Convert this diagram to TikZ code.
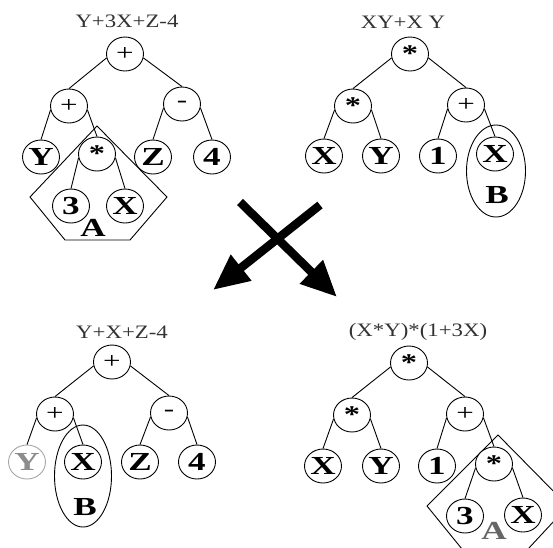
\documentclass[tikz,border=0pt]{standalone}
\usepackage{fontspec}
\setmainfont{Liberation Serif}
\newfontfamily\nodefont[FakeStretch=1.35]{Liberation Serif}
\newfontfamily\titlefont[FakeStretch=1.2]{Liberation Serif}
\usetikzlibrary{arrows.meta,shapes.geometric}
\tikzset{
  tnode/.style={draw, fill=white, ellipse, minimum width=37pt, minimum height=34pt, inner sep=0pt, line width=0.9pt, font=\nodefont\bfseries\fontsize{26}{26}\selectfont},
  opnode/.style={tnode, font=\nodefont\fontsize{23}{23}\selectfont},
  starnode/.style={tnode, font=\nodefont\bfseries\fontsize{24}{24}\selectfont},
  link/.style={line width=0.9pt},
  ttl/.style={font=\titlefont\fontsize{19}{19}\selectfont, text=black!80, inner sep=0pt},
  lbl/.style={font=\nodefont\bfseries\fontsize{26}{26}\selectfont, inner sep=0pt},
  shapeline/.style={line width=0.9pt},
  bigarrow/.style={line width=8.5pt, -{Triangle[length=36pt,width=31pt]}},
}
\begin{document}
\begin{tikzpicture}[x=1pt,y=-1pt]
\useasboundingbox (0,0) rectangle (553,547);
\clip (0,0) rectangle (553,547);
\fill[white] (0,0) rectangle (553,547);

% ---------- top left ----------
\node[ttl] (tl) at (127,21) {Y+3X+Z-4};
\draw[shapeline] (97,126) -- (167,197) -- (130,240) -- (65,240) -- (30,197) -- cycle;
\node[lbl] (la) at (93,228) {A};
\node[opnode] (r1) at (125,54) {+};
\node[opnode] (a1) at (69,106) {+};
\node[opnode] (b1) at (182,104) {-};
\node[tnode] (y1) at (41,157) {Y};
\node[starnode] (s1) at (97,154) {*};
\node[tnode] (z1) at (153,157) {Z};
\node[tnode] (f1) at (212,157) {4};
\node[tnode] (t1) at (71,206) {3};
\node[tnode] (x1) at (125,206) {X};
\draw[link] (r1.192) -- (a1.north);
\draw[link] (r1.-12) -- (b1.north);
\draw[link] (a1.192) -- (y1.north);
\draw[link] (a1.-12) -- (s1.north);
\draw[link] (b1.192) -- (z1.north);
\draw[link] (b1.-12) -- (f1.north);
\draw[link] (s1.192) -- (t1.north);
\draw[link] (s1.-12) -- (x1.north);

% ---------- top right ----------
\node[ttl] (tr) at (403,22) {XY+X Y};
\draw[shapeline] (496,171) ellipse [x radius=29.5, y radius=46];
\node[lbl] (lb) at (497,195) {B};
\node[starnode] (r2) at (410,54) {*};
\node[starnode] (a2) at (353,106) {*};
\node[opnode] (b2) at (466,105) {+};
\node[tnode] (x2) at (324,156) {X};
\node[tnode] (y2) at (381,156) {Y};
\node[tnode] (o2) at (438,156) {1};
\node[tnode] (w2) at (495,154) {X};
\draw[link] (r2.192) -- (a2.north);
\draw[link] (r2.-12) -- (b2.north);
\draw[link] (a2.192) -- (x2.north);
\draw[link] (a2.-12) -- (y2.north);
\draw[link] (b2.192) -- (o2.north);
\draw[link] (b2.-12) -- (w2.north);

% ---------- arrows ----------
\coordinate (p1) at (320,205);
\coordinate (q1) at (213,290);
\coordinate (p2) at (240,202);
\coordinate (q2) at (337,297);
\draw[bigarrow] (p1) -- (q1);
\draw[bigarrow] (p2) -- (q2);

% ---------- bottom left ----------
\node[ttl] (bl) at (122,332) {Y+X+Z-4};
\draw[shapeline] (83,476) ellipse [x radius=28.5, y radius=51];
\node[lbl] (lb2) at (85,507) {B};
\node[opnode] (r3) at (112,362) {+};
\node[opnode] (a3) at (55,414) {+};
\node[opnode] (b3) at (169,413) {-};
\node[tnode, draw=black!35, text=black!45] (y3) at (27,462) {Y};
\node[tnode] (x3) at (83,462) {X};
\node[tnode] (z3) at (140,462) {Z};
\node[tnode] (f3) at (197,462) {4};
\draw[link] (r3.192) -- (a3.north);
\draw[link] (r3.-12) -- (b3.north);
\draw[link] (a3.192) -- (y3.north);
\draw[link] (a3.-12) -- (x3.north);
\draw[link] (b3.192) -- (z3.north);
\draw[link] (b3.-12) -- (f3.north);

% ---------- bottom right ----------
\node[ttl] (br) at (418,332) {(X*Y)*(1+3X)};
\draw[shapeline] (498,435) -- (568,506) -- (528,549) -- (462,549) -- (427,506) -- cycle;
\node[lbl, text=black!60] (la2) at (494,531) {A};
\node[starnode] (r4) at (409,363) {*};
\node[starnode] (a4) at (352,415) {*};
\node[opnode] (b4) at (465,414) {+};
\node[tnode] (x4) at (323,466) {X};
\node[tnode] (y4) at (381,466) {Y};
\node[tnode] (o4) at (437,466) {1};
\node[starnode] (s4) at (494,464) {*};
\node[tnode] (t4) at (465,516) {3};
\node[tnode] (w4) at (523,515) {X};
\draw[link] (r4.192) -- (a4.north);
\draw[link] (r4.-12) -- (b4.north);
\draw[link] (a4.192) -- (x4.north);
\draw[link] (a4.-12) -- (y4.north);
\draw[link] (b4.192) -- (o4.north);
\draw[link] (b4.-12) -- (s4.north);
\draw[link] (s4.192) -- (t4.north);
\draw[link] (s4.-12) -- (w4.north);
\end{tikzpicture}
\end{document}
